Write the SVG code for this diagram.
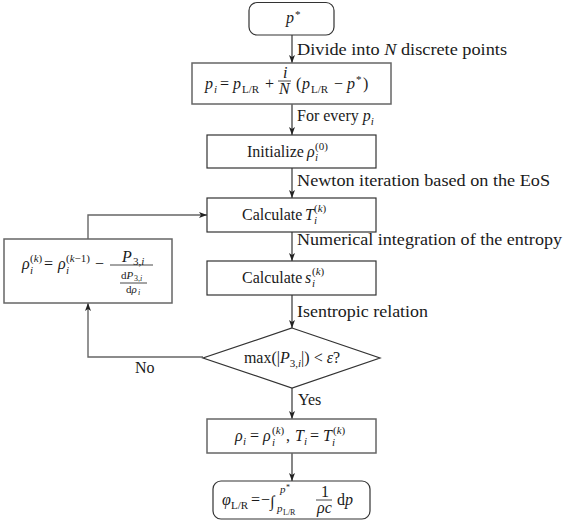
<svg xmlns="http://www.w3.org/2000/svg" width="567" height="523" viewBox="0 0 567 523">
<style>
text{font-family:"Liberation Serif","DejaVu Serif","Noto Serif",serif;font-size:16px;fill:#1a1a1a}
.it{font-style:italic}
.s{font-size:11px}
.xs{font-size:8px}
.box{fill:#fff;stroke:#333;stroke-width:1.2}
.gbox{fill:#fff;stroke:#666;stroke-width:1.5}
.ln{fill:none;stroke:#222;stroke-width:1.1}
.gl{fill:none;stroke:#666;stroke-width:1.4}
.bar{stroke:#1a1a1a;stroke-width:0.8}
</style>
<defs>
<marker id="ah" viewBox="0 0 8 6" refX="8" refY="3" markerWidth="8" markerHeight="6" markerUnits="userSpaceOnUse" orient="auto">
<path d="M0,0 L8,3 L0,6 L2,3 z" fill="#222"/>
</marker>
</defs>
<rect width="567" height="523" fill="#fff"/>

<g id="connectors">
<path class="ln" d="M292,35 V63" marker-end="url(#ah)"/>
<path class="ln" d="M292,104 V135" marker-end="url(#ah)"/>
<path class="ln" d="M292,168 V198" marker-end="url(#ah)"/>
<path class="ln" d="M292,232 V261" marker-end="url(#ah)"/>
<path class="ln" d="M292,295 V328" marker-end="url(#ah)"/>
<path class="ln" d="M292,388 V419" marker-end="url(#ah)"/>
<path class="ln" d="M292,453 V481" marker-end="url(#ah)"/>
<path class="gl" d="M203,357 H88 V303" marker-end="url(#ah)"/>
<path class="gl" d="M88,239 V215 H207" marker-end="url(#ah)"/>
<text x="297" y="55" textLength="210" lengthAdjust="spacingAndGlyphs">Divide into <tspan class="it">N</tspan> discrete points</text>
<text x="297" y="121">For every <tspan class="it">p</tspan><tspan class="s it" dy="4">i</tspan></text>
<text x="297" y="186" textLength="253" lengthAdjust="spacingAndGlyphs">Newton iteration based on the EoS</text>
<text x="297" y="245" textLength="265" lengthAdjust="spacingAndGlyphs">Numerical integration of the entropy</text>
<text x="297" y="317" textLength="131" lengthAdjust="spacingAndGlyphs">Isentropic relation</text>
<text x="298" y="405">Yes</text>
<text x="135" y="373">No</text>
</g>

<g id="n-pstar">
<rect class="box" x="249" y="2.5" width="85" height="32.5" rx="8"/>
<text class="it" x="286" y="23">p</text><text x="295" y="18" class="s">*</text>
</g>

<g id="n-pi">
<rect class="gbox" x="192" y="63" width="199" height="41"/>
<text class="it" x="205" y="89">p</text><text class="s it" x="214" y="93">i</text>
<text x="220" y="89">=</text>
<text class="it" x="233" y="89">p</text><text class="s" x="242" y="93">L/R</text>
<text x="265" y="89">+</text>
<text class="it" x="283" y="78" font-size="14">i</text>
<line class="bar" x1="278" y1="81" x2="291" y2="81"/>
<text class="it" x="279" y="94" font-size="15">N</text>
<text x="296" y="89">(</text>
<text class="it" x="302" y="89">p</text><text class="s" x="311" y="93">L/R</text>
<text x="334" y="89">−</text>
<text class="it" x="347" y="89">p</text><text class="s" x="356" y="83">*</text>
<text x="363" y="89">)</text>
</g>

<g id="n-init">
<rect class="box" x="207" y="135" width="169" height="33"/>
<text x="247" y="157">Initialize</text>
<text class="it" x="307" y="157">ρ</text>
<text class="s" x="315" y="150">(0)</text><text class="s it" x="315" y="161">i</text>
</g>

<g id="n-calcT">
<rect class="box" x="207" y="198" width="169" height="34"/>
<text x="242" y="220">Calculate</text>
<text class="it" x="305" y="220">T</text>
<text class="s" x="314" y="212">(<tspan class="it">k</tspan>)</text><text class="s it" x="314" y="224">i</text>
</g>

<g id="n-calcs">
<rect class="box" x="207" y="261" width="169" height="34"/>
<text x="242" y="283">Calculate</text>
<text class="it" x="305" y="283">s</text>
<text class="s" x="312" y="275">(<tspan class="it">k</tspan>)</text><text class="s it" x="312" y="287">i</text>
</g>

<g id="n-check">
<polygon class="box" points="292,328 380,358 292,388 203,358"/>
<text x="292" y="363" text-anchor="middle" font-size="17">max(|<tspan class="it">P</tspan><tspan class="s" dy="4">3,</tspan><tspan class="s it">i</tspan><tspan dy="-4">|)</tspan> &lt; <tspan class="it">ε</tspan>?</text>
</g>

<g id="n-update">
<rect class="gbox" x="4" y="239" width="168" height="64"/>
<text class="it" x="22" y="269">ρ</text>
<text class="s" x="30" y="262">(<tspan class="it">k</tspan>)</text><text class="s it" x="30" y="274">i</text>
<text x="44" y="269">=</text>
<text class="it" x="58" y="269">ρ</text>
<text class="s" x="66" y="262">(<tspan class="it">k</tspan>−1)</text><text class="s it" x="66" y="274">i</text>
<text x="95" y="269">−</text>
<line class="bar" x1="110" y1="265" x2="153" y2="265"/>
<text class="it" x="122" y="262">P</text><text class="s" x="133" y="265">3,<tspan class="it">i</tspan></text>
<text class="s" x="121" y="279">d<tspan class="it">P</tspan></text><text class="xs" x="134" y="281">3,<tspan class="it">i</tspan></text>
<line class="bar" x1="120" y1="283" x2="147" y2="283"/>
<text class="s" x="126" y="293">d<tspan class="it">ρ</tspan></text><text class="xs it" x="138" y="295">i</text>
</g>

<g id="n-assign">
<rect class="gbox" x="207" y="419" width="169" height="34"/>
<text class="it" x="235" y="441">ρ</text><text class="s it" x="243" y="445">i</text>
<text x="250" y="441">=</text>
<text class="it" x="263" y="441">ρ</text>
<text class="s" x="272" y="434">(<tspan class="it">k</tspan>)</text><text class="s it" x="272" y="446">i</text>
<text x="286" y="441">,</text>
<text class="it" x="295" y="441">T</text><text class="s it" x="304" y="445">i</text>
<text x="310" y="441">=</text>
<text class="it" x="323" y="441">T</text>
<text class="s" x="333" y="434">(<tspan class="it">k</tspan>)</text><text class="s it" x="332" y="446">i</text>
</g>

<g id="n-phi">
<rect class="box" x="213" y="481" width="157" height="38" rx="8"/>
<text class="it" x="222" y="505">φ</text><text class="s" x="231" y="509">L/R</text>
<text x="251" y="505">=</text>
<text x="261" y="505">−</text>
<text class="it" x="270" y="507" font-size="18">∫</text>
<text class="s it" x="280" y="493">p</text><text class="xs" x="286" y="490">*</text>
<text class="s it" x="277" y="512">p</text><text class="xs" x="283" y="515">L/R</text>
<text x="321" y="497" font-size="14">1</text>
<line class="bar" x1="316" y1="500" x2="332" y2="500"/>
<text class="it" x="317" y="513" font-size="14">ρc</text>
<text x="337" y="505">d<tspan class="it">p</tspan></text>
</g>
</svg>
